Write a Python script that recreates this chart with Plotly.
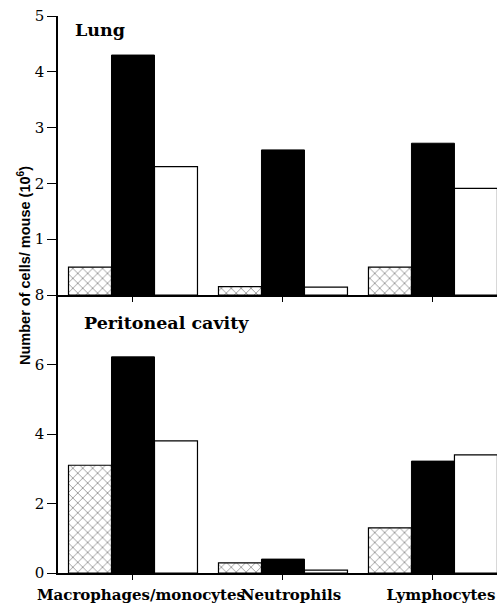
import plotly.graph_objects as go

categories = ["Macrophages/monocytes", "Neutrophils", "Lymphocytes"]
lung_hatched = [0.5, 0.15, 0.5]
lung_black = [4.3, 2.6, 2.72]
lung_white = [2.3, 0.14, 1.91]
perit_hatched = [3.1, 0.29, 1.3]
perit_black = [6.22, 0.4, 3.22]
perit_white = [3.8, 0.08, 3.4]
lung_ticks = [1, 2, 3, 4, 5]
perit_ticks = [0, 2, 4, 6, 8]

SERIF = "DejaVu Serif"
xi = [0, 1, 2]

fig = go.Figure()

def add_group(vals_h, vals_b, vals_w, xa, ya):
    fig.add_trace(go.Bar(x=xi, y=vals_h, xaxis=xa, yaxis=ya,
                         marker=dict(color="white", line=dict(color="black", width=1.2),
                                     pattern=dict(shape="x", fgcolor="black", bgcolor="white",
                                                  size=7, solidity=0.2)),
                         showlegend=False))
    fig.add_trace(go.Bar(x=xi, y=vals_b, xaxis=xa, yaxis=ya,
                         marker=dict(color="black", line=dict(color="black", width=1)),
                         showlegend=False))
    fig.add_trace(go.Bar(x=xi, y=vals_w, xaxis=xa, yaxis=ya,
                         marker=dict(color="white", line=dict(color="black", width=1.2)),
                         showlegend=False))

add_group(lung_hatched, lung_black, lung_white, "x2", "y2")
add_group(perit_hatched, perit_black, perit_white, "x", "y")

split = (573 - 295) / 557
xr = [-0.5, 2.427]
tickfont = dict(family=SERIF, size=15, color="black")

fig.update_layout(
    width=497, height=603,
    margin=dict(l=58, r=0, t=16, b=30, autoexpand=False),
    paper_bgcolor="white", plot_bgcolor="white",
    barmode="group", bargap=0.14, bargroupgap=0,
    xaxis=dict(domain=[0, 1], range=xr, anchor="y", tickmode="array",
               tickvals=xi, ticktext=categories, ticks="outside", ticklen=5,
               tickangle=0, automargin=False, ticklabelshift=8, ticklabelstandoff=2,
               tickcolor="black", showline=True, linecolor="black", linewidth=1.5,
               showgrid=False, zeroline=False,
               tickfont=dict(family=SERIF, size=15, color="black", weight="bold")),
    yaxis=dict(domain=[0, split], range=[0, 8], anchor="x", tickmode="array",
               tickvals=perit_ticks, ticks="outside", ticklen=9, tickcolor="black",
               automargin=False,
               showline=True, linecolor="black", linewidth=1.5, showgrid=False,
               zeroline=False, tickfont=tickfont),
    xaxis2=dict(domain=[0, 1], range=xr, anchor="y2", tickmode="array",
                tickvals=xi, showticklabels=False, ticks="outside", ticklen=5,
                automargin=False,
                tickcolor="black", showline=True, linecolor="black", linewidth=1.5,
                showgrid=False, zeroline=False),
    yaxis2=dict(domain=[split, 1], range=[0, 5], anchor="x2", tickmode="array",
                tickvals=lung_ticks, ticks="outside", ticklen=9, tickcolor="black",
                automargin=False,
                showline=True, linecolor="black", linewidth=1.5, showgrid=False,
                zeroline=False, tickfont=tickfont),
    annotations=[
        dict(text="Lung", xref="paper", yref="paper", x=(73 - 58) / 439, y=(573 - 30) / 557,
             xanchor="left", yanchor="middle", showarrow=False,
             font=dict(family=SERIF, size=17.5, color="black", weight="bold")),
        dict(text="Peritoneal cavity", xref="paper", yref="paper", x=(82 - 58) / 439,
             y=(573 - 323) / 557, xanchor="left", yanchor="middle", showarrow=False,
             font=dict(family=SERIF, size=17.5, color="black", weight="bold")),
        dict(text="Number of cells/ mouse (10<sup>6</sup>)", xref="paper", yref="paper",
             x=-34 / 439, y=(573 - 266) / 557, xanchor="center", yanchor="middle",
             textangle=-90, showarrow=False,
             font=dict(family="Liberation Sans", size=14.5, color="black", weight="bold")),
    ],
)

fig.write_html("out.html", config={"displayModeBar": False},
               post_script="document.body.style.margin='0';")
